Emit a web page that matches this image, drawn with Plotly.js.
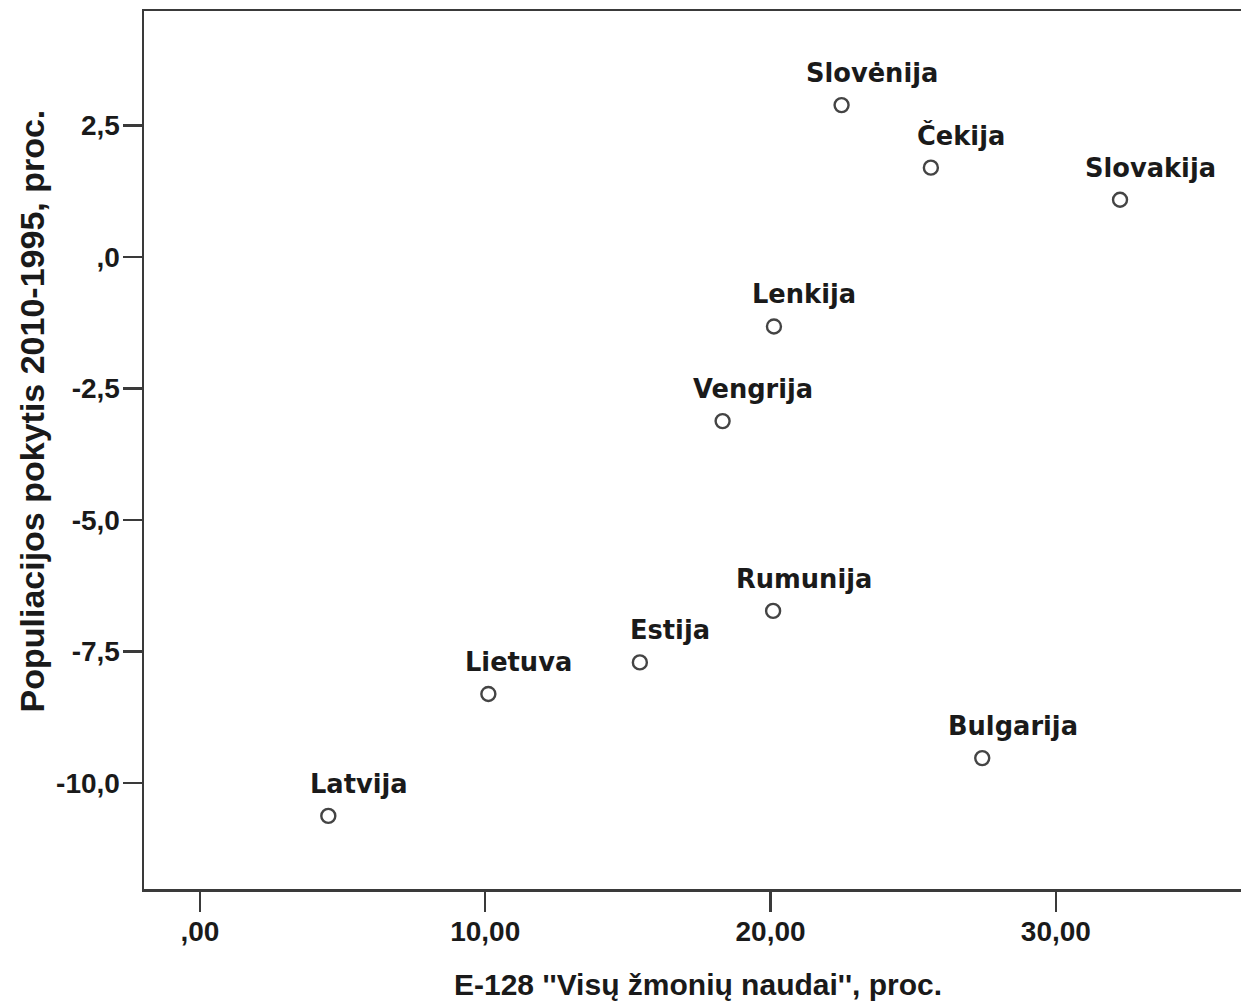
<!DOCTYPE html>
<html>
<head>
<meta charset="utf-8">
<script src="https://cdn.plot.ly/plotly-3.0.1.min.js"></script>
<style>
  html, body { margin: 0; padding: 0; background: #ffffff; overflow: hidden; }
  #chart { width: 1241px; height: 1001px; }
</style>
</head>
<body>
<div id="chart"></div>
<script>
// Data
const countries = ["Slovėnija", "Čekija", "Slovakija", "Lenkija", "Vengrija", "Rumunija", "Estija", "Lietuva", "Bulgarija", "Latvija"];
const humanGood = [22.49, 25.62, 32.25, 20.12, 18.32, 20.09, 15.42, 10.11, 27.42, 4.50];
const popChange = [2.89, 1.70, 1.09, -1.32, -3.12, -6.73, -7.71, -8.31, -9.53, -10.63];

const xTickVals = [0, 10, 20, 30];
const xTickText = [",00", "10,00", "20,00", "30,00"];
const yTickVals = [2.5, 0, -2.5, -5, -7.5, -10];
const yTickText = ["2,5", ",0", "-2,5", "-5,0", "-7,5", "-10,0"];

const xTitle = "E-128 ''Visų žmonių naudai'', proc.";
const yTitle = "Populiacijos pokytis 2010-1995, proc.";

const lineColor = "#3a3a3a";
const textColor = "#1a1a1a";
const tickFont = { family: "Liberation Sans, Arial, sans-serif", size: 28, color: textColor, weight: "bold" };

const trace = {
  type: "scatter",
  mode: "markers",
  x: humanGood,
  y: popChange,
  marker: {
    symbol: "circle-open",
    size: 14,
    color: "#444444",
    line: { width: 2.4, color: "#444444" }
  },
  hoverinfo: "text",
  text: countries,
  cliponaxis: false
};

const labelAnnotations = countries.map((c, i) => ({
  x: humanGood[i],
  y: popChange[i],
  xref: "x",
  yref: "y",
  text: "<b>" + c + "</b>",
  showarrow: false,
  xanchor: "center",
  yanchor: "middle",
  xshift: 30.5,
  yshift: 32,
  font: { family: "DejaVu Sans, Verdana, sans-serif", size: 25.7, color: textColor }
}));

const layout = {
  width: 1241,
  height: 1001,
  margin: { l: 144, r: 0, t: 11, b: 112, pad: 0 },
  paper_bgcolor: "#ffffff",
  plot_bgcolor: "#ffffff",
  showlegend: false,
  xaxis: {
    range: [-1.96, 36.49],
    tickvals: xTickVals,
    ticktext: xTickText,
    ticks: "outside",
    ticklen: 20,
    tickwidth: 2.5,
    tickcolor: lineColor,
    ticklabelstandoff: -4,
    showline: true,
    linecolor: lineColor,
    linewidth: 2.5,
    mirror: true,
    showgrid: false,
    zeroline: false,
    tickfont: tickFont
  },
  yaxis: {
    range: [-12.02, 4.68],
    tickvals: yTickVals,
    ticktext: yTickText,
    ticks: "outside",
    ticklen: 19,
    tickwidth: 2.5,
    tickcolor: lineColor,
    ticklabelstandoff: -3,
    showline: true,
    linecolor: lineColor,
    linewidth: 2.5,
    mirror: false,
    showgrid: false,
    zeroline: false,
    tickfont: tickFont
  },
  annotations: labelAnnotations.concat([
    {
      xref: "paper", yref: "paper",
      x: (698 - 144) / 1097, y: (889 - 985) / 878,
      xanchor: "center", yanchor: "middle",
      text: "<b>" + xTitle + "</b>",
      showarrow: false,
      font: { family: "Liberation Sans, Arial, sans-serif", size: 30, color: textColor }
    },
    {
      xref: "paper", yref: "paper",
      x: (32 - 144) / 1097, y: (889 - 411.5) / 878,
      xanchor: "center", yanchor: "middle",
      textangle: -90,
      text: "<b>" + yTitle + "</b>",
      showarrow: false,
      font: { family: "Liberation Sans, Arial, sans-serif", size: 34, color: textColor }
    }
  ])
};

Plotly.newPlot("chart", [trace], layout, { staticPlot: true, displayModeBar: false });
</script>
</body>
</html>
